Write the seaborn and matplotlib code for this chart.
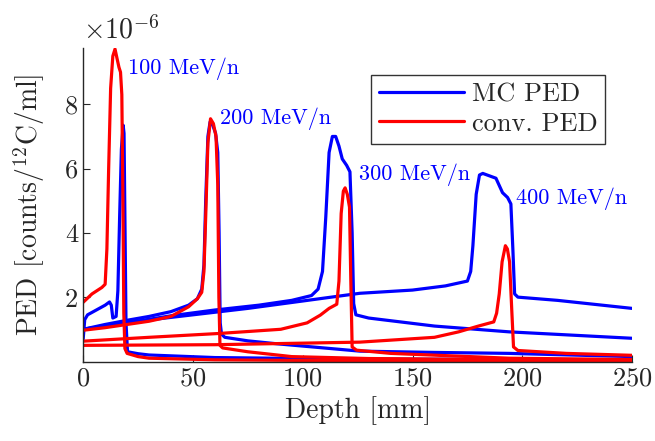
import matplotlib
matplotlib.use("Agg")
import matplotlib.pyplot as plt
from matplotlib.ticker import FuncFormatter
import seaborn as sns
import pandas as pd

# PED values, in units of 1e-6 counts/12C/ml
SCALE = 1e-6

mc100_x = [0, 0.7, 2, 6, 10, 12, 12.8, 13.5, 15, 15.8, 16.6, 17.4, 18.2, 18.6, 19.0, 19.5, 20.2, 25, 30, 60, 100, 150, 200, 250]
mc100_y = [0.7, 1.3, 1.45, 1.6, 1.75, 1.85, 1.75, 1.35, 1.4, 2.2, 4.5, 6.6, 7.35, 7.1, 4.5, 1.2, 0.3, 0.24, 0.2, 0.12, 0.09, 0.07, 0.06, 0.05]

conv100_x = [0, 4, 8.5, 10, 10.8, 11.6, 12.5, 13.5, 14.5, 15.5, 16.3, 17.0, 17.6, 18.1, 18.5, 19.0, 20, 25, 30, 60, 100, 250]
conv100_y = [1.84, 2.1, 2.3, 2.4, 3.5, 6.0, 8.5, 9.5, 9.72, 9.4, 9.15, 9.0, 8.3, 5.0, 1.5, 0.4, 0.25, 0.15, 0.1, 0.05, 0.03, 0.03]

mc200_x = [0, 10, 20, 30, 40, 48, 52, 54, 55, 55.8, 56.8, 57.8, 59, 60.3, 61.3, 61.9, 62.4, 63, 64.5, 75, 88, 126, 160, 194, 250]
mc200_y = [1.0, 1.15, 1.28, 1.4, 1.55, 1.75, 1.95, 2.25, 3.0, 5.0, 7.0, 7.45, 7.35, 7.1, 6.5, 4.0, 1.2, 0.85, 0.75, 0.64, 0.55, 0.32, 0.28, 0.25, 0.15]

conv200_x = [0, 10, 20, 30, 40, 48, 52, 54, 55, 55.8, 56.8, 58, 59.3, 60.5, 61.3, 61.8, 62.3, 63.5, 75, 95, 130, 200, 250]
conv200_y = [0.97, 1.05, 1.15, 1.25, 1.4, 1.7, 1.95, 2.15, 2.8, 4.5, 6.8, 7.55, 7.4, 7.0, 5.5, 2.0, 0.5, 0.42, 0.3, 0.15, 0.09, 0.05, 0.04]

mc300_x = [0, 20, 40, 60, 80, 95, 104, 107, 109, 110.5, 112, 113.5, 115, 116.5, 118, 120, 121.5, 122.5, 123.2, 124.2, 130, 160, 194, 250]
mc300_y = [1.0, 1.2, 1.42, 1.6, 1.75, 1.9, 2.05, 2.25, 2.8, 4.5, 6.5, 7.0, 7.0, 6.7, 6.3, 6.1, 5.9, 4.0, 1.8, 1.45, 1.35, 1.1, 0.92, 0.72]

conv300_x = [0, 30, 62, 90, 102, 108, 112, 115.5, 116.5, 117.5, 118.5, 119.3, 120.3, 121.3, 121.9, 122.5, 124.5, 140, 194, 250]
conv300_y = [0.63, 0.75, 0.87, 1.0, 1.2, 1.44, 1.65, 1.78, 2.5, 4.6, 5.3, 5.4, 5.2, 4.8, 2.5, 0.45, 0.35, 0.25, 0.1, 0.06]

mc400_x = [0, 25, 50, 75, 100, 126, 150, 165, 175, 176.5, 177.5, 179, 180.5, 182, 188, 191, 193.3, 194.8, 195.7, 196.5, 198, 216, 250]
mc400_y = [1.0, 1.25, 1.45, 1.65, 1.88, 2.12, 2.22, 2.35, 2.5, 2.8, 3.6, 5.2, 5.8, 5.85, 5.7, 5.25, 5.1, 4.9, 3.5, 2.1, 2.0, 1.9, 1.65]

conv400_x = [0, 60, 126, 160, 171, 180, 187, 188.3, 189.5, 190.8, 192.3, 193.2, 194.2, 195.2, 196, 198, 220, 250]
conv400_y = [0.5, 0.52, 0.6, 0.75, 0.92, 1.1, 1.23, 1.5, 2.1, 3.1, 3.6, 3.5, 3.1, 1.6, 0.45, 0.34, 0.25, 0.19]

energy_labels = ["100 MeV/n", "200 MeV/n", "300 MeV/n", "400 MeV/n"]
label_x = [20.5, 62.3, 125.5, 197.3]
label_y = [9.1, 7.55, 5.8, 5.05]

curves = [
    ("MC PED", "100", mc100_x, mc100_y),
    ("MC PED", "200", mc200_x, mc200_y),
    ("MC PED", "300", mc300_x, mc300_y),
    ("MC PED", "400", mc400_x, mc400_y),
    ("conv. PED", "100", conv100_x, conv100_y),
    ("conv. PED", "200", conv200_x, conv200_y),
    ("conv. PED", "300", conv300_x, conv300_y),
    ("conv. PED", "400", conv400_x, conv400_y),
]

rows = []
for kind, energy, xs, ys in curves:
    for xv, yv in zip(xs, ys):
        rows.append({"kind": kind, "energy": kind + energy,
                     "depth": xv, "ped": yv * SCALE})
df = pd.DataFrame(rows)

sns.set_style("ticks")
plt.rcParams["font.family"] = ["cmr10"]
plt.rcParams["mathtext.fontset"] = "cm"
plt.rcParams["axes.formatter.use_mathtext"] = True

fig = plt.figure(figsize=(6.55, 4.41), dpi=100)
ax = fig.add_axes([0.127, 0.179, 0.838, 0.712])

sns.lineplot(data=df, x="depth", y="ped", hue="kind", units="energy",
             estimator=None, sort=False, ax=ax, linewidth=2.3,
             palette={"MC PED": "#0000ff", "conv. PED": "#ff0000"},
             hue_order=["MC PED", "conv. PED"])

for txt, xv, yv in zip(energy_labels, label_x, label_y):
    ax.text(xv, yv * SCALE, txt, color="#0000ff", fontsize=16, va="center", ha="left")

ax.set_xlim(0, 250)
ax.set_ylim(-0.02 * SCALE, 9.75 * SCALE)
ax.set_xticks([0, 50, 100, 150, 200, 250])
ax.set_yticks([2e-6, 4e-6, 6e-6, 8e-6])
ax.yaxis.set_major_formatter(FuncFormatter(lambda v, p: f"{v / SCALE:g}"))
ax.tick_params(direction="in", length=5, width=0.8, labelsize=19, colors="#262626")
ax.text(0.0, 1 + 10 / 314, r"$\times10^{-6}$", transform=ax.transAxes,
        fontsize=20, color="#262626", ha="left", va="baseline")

sns.despine(ax=ax)
for sp in ["left", "bottom"]:
    ax.spines[sp].set_color("#262626")
    ax.spines[sp].set_linewidth(1.0)

ax.set_xlabel("Depth [mm]", fontsize=20, color="#262626")
ax.set_ylabel(r"PED [counts/$^{12}$C/ml]", fontsize=20, color="#262626")
ax.yaxis.set_label_coords(-0.066, 0.5)

leg = ax.legend(loc="upper right", bbox_to_anchor=(0.951, 0.914), borderaxespad=0,
                fontsize=19, frameon=True, fancybox=False, edgecolor="black",
                handlelength=3.2, handletextpad=0.3, borderpad=0.3,
                labelspacing=0.2, title=None)
leg.get_frame().set_linewidth(1.0)
for line in leg.get_lines():
    line.set_linewidth(2.3)

fig.savefig("out.png", dpi=100)
